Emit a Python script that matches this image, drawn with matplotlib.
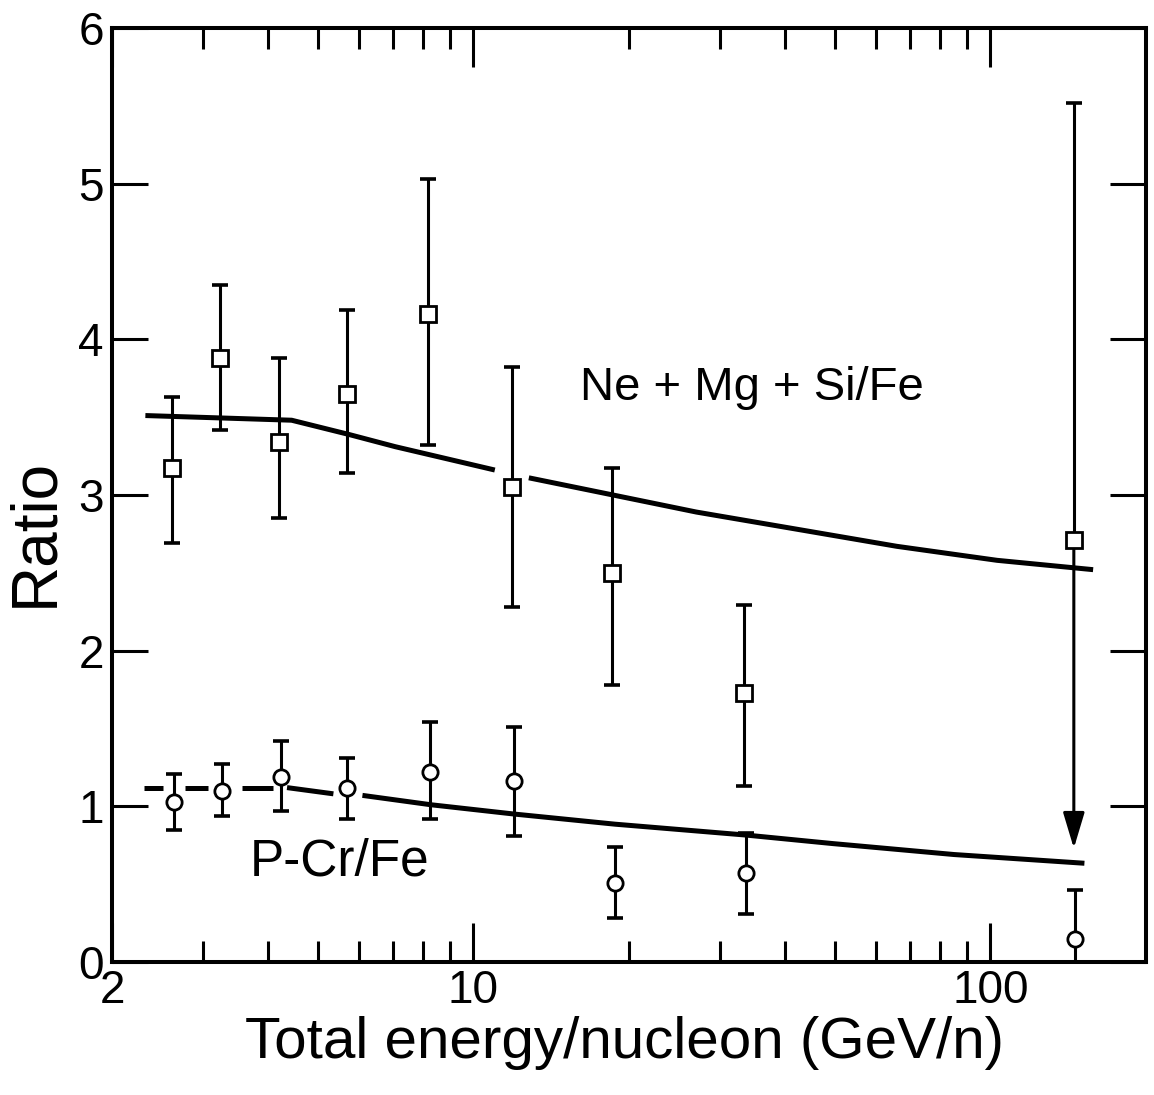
import numpy as np
import matplotlib
matplotlib.use("Agg")
import matplotlib.pyplot as plt
from matplotlib.ticker import FixedLocator, FixedFormatter, NullFormatter, NullLocator

# ---------------- data ----------------
# Ne+Mg+Si/Fe  (open squares)
ne_E   = [2.61, 3.23, 4.20, 5.69, 8.17, 11.9, 18.5, 33.3, 145.0]
ne_val = [3.17, 3.88, 3.34, 3.65, 4.16, 3.05, 2.50, 1.73, 2.71]
ne_hi  = [3.63, 4.35, 3.88, 4.19, 5.03, 3.82, 3.17, 2.29, 5.52]
ne_lo  = [2.69, 3.42, 2.85, 3.14, 3.32, 2.28, 1.78, 1.13, np.nan]
ne_arrow_tip = 0.73          # last point: downward arrow instead of lower bar

# P-Cr/Fe  (open circles)
pcr_E   = [2.63, 3.27, 4.25, 5.70, 8.25, 11.97, 18.8, 33.7, 145.5]
pcr_val = [1.03, 1.10, 1.19, 1.12, 1.22, 1.16, 0.51, 0.57, 0.15]
pcr_hi  = [1.21, 1.27, 1.42, 1.31, 1.54, 1.51, 0.74, 0.83, 0.46]
pcr_lo  = [0.85, 0.94, 0.97, 0.92, 0.92, 0.81, 0.28, 0.31, 0.00]

# model curve for Ne+Mg+Si/Fe (broken around one data point)
upper_seg1_E   = [2.32, 4.45, 5.72, 7.06, 11.0]
upper_seg1_val = [3.51, 3.48, 3.39, 3.31, 3.16]
upper_seg2_E   = [12.8, 18.6, 27.0, 42.2, 65.9, 103.0, 158.0]
upper_seg2_val = [3.11, 3.00, 2.89, 2.78, 2.67, 2.58, 2.52]

# model curve for P-Cr/Fe (interrupted around the markers)
lower_segA_E, lower_segA_val = [2.31, 2.51], [1.12, 1.12]
lower_segB_E, lower_segB_val = [2.77, 3.06], [1.12, 1.12]
lower_segC_E, lower_segC_val = [3.57, 4.09], [1.12, 1.12]
lower_segD_E, lower_segD_val = [4.36, 5.36], [1.12, 1.08]
lower_segE_E   = [6.10, 8.27, 12.0, 18.8, 33.7, 49.7, 85.1, 152.0]
lower_segE_val = [1.07, 1.01, 0.95, 0.885, 0.815, 0.76, 0.69, 0.634]

x_major = [2, 10, 100]
x_major_labels = ["2", "10", "100"]
x_minor = [3, 4, 5, 6, 7, 8, 9, 20, 30, 40, 50, 60, 70, 80, 90]
y_major = [0, 1, 2, 3, 4, 5, 6]
y_major_labels = ["0", "1", "2", "3", "4", "5", "6"]

# ---------------- figure ----------------
FONT = ["Liberation Sans", "DejaVu Sans"]

fig = plt.figure(figsize=(11.54, 10.95), dpi=100)
ax = fig.add_axes([0.0971, 0.1215, 0.896, 0.853])
ax.set_xscale("log")
ax.set_xlim(2, 200)
ax.set_ylim(0, 6)

for s in ax.spines.values():
    s.set_linewidth(2.9)

# curves
curve_kw = dict(color="k", lw=3.6, solid_capstyle="butt", zorder=2)
for xs, ys in [(upper_seg1_E, upper_seg1_val), (upper_seg2_E, upper_seg2_val),
               (lower_segA_E, lower_segA_val), (lower_segB_E, lower_segB_val),
               (lower_segC_E, lower_segC_val), (lower_segD_E, lower_segD_val),
               (lower_segE_E, lower_segE_val)]:
    ax.plot(xs, ys, **curve_kw)

# error bars
def draw_bars(E, val, lo, hi, capw):
    E = np.asarray(E); val = np.asarray(val)
    lo = np.asarray(lo, dtype=float); hi = np.asarray(hi)
    bottom = np.where(np.isnan(lo), val, lo)
    ax.vlines(E, bottom, hi, colors="k", lw=2.2, zorder=3)
    ax.plot(E, hi, ls="none", marker="_", ms=capw, mew=2.6, color="k", zorder=3)
    ok = ~np.isnan(lo)
    ax.plot(E[ok], lo[ok], ls="none", marker="_", ms=capw, mew=2.6, color="k",
            zorder=3, clip_on=False)

draw_bars(ne_E, ne_val, ne_lo, ne_hi, 12)
draw_bars(pcr_E, pcr_val, pcr_lo, pcr_hi, 11)

# markers
ax.plot(ne_E, ne_val, ls="none", marker="s", ms=12, mfc="white", mec="k",
        mew=2.0, zorder=5)
ax.plot(pcr_E, pcr_val, ls="none", marker="o", ms=11, mfc="white", mec="k",
        mew=2.0, zorder=5)

# downward arrow (upper limit style) on last square
ax.annotate("", xy=(ne_E[-1], ne_arrow_tip), xytext=(ne_E[-1], ne_val[-1]),
            arrowprops=dict(arrowstyle="-|>,head_length=1.1,head_width=0.33",
                            color="k", lw=2.2, shrinkA=0, shrinkB=0,
                            mutation_scale=20), zorder=4)

# labels inside the plot
ax.text(0.619, 0.615, "Ne + Mg + Si/Fe", transform=ax.transAxes, ha="center",
        va="center", fontsize=34, family=FONT)
ax.text(0.2205, 0.107, "P-Cr/Fe", transform=ax.transAxes, ha="center",
        va="center", fontsize=37, family=FONT)

# ticks
ax.xaxis.set_major_locator(FixedLocator(x_major))
ax.xaxis.set_major_formatter(FixedFormatter(x_major_labels))
ax.xaxis.set_minor_locator(FixedLocator(x_minor))
ax.xaxis.set_minor_formatter(NullFormatter())
ax.yaxis.set_major_locator(FixedLocator(y_major))
ax.yaxis.set_major_formatter(FixedFormatter(y_major_labels))
ax.yaxis.set_minor_locator(NullLocator())

ax.tick_params(axis="x", which="major", direction="in", length=28, width=2.2,
               top=True, pad=5, labelsize=33)
ax.tick_params(axis="x", which="minor", direction="in", length=15, width=2.2,
               top=True)
ax.tick_params(axis="y", which="major", direction="in", length=26, width=2.2,
               right=True, pad=6, labelsize=33)
for lab in ax.get_xticklabels() + ax.get_yticklabels():
    lab.set_family(FONT)

ax.set_xlabel("Total energy/nucleon (GeV/n)", fontsize=42, family=FONT)
ax.xaxis.set_label_coords(0.496, -0.058)
ax.set_ylabel("Ratio", fontsize=46, family=FONT)
ax.yaxis.set_label_coords(-0.045, 0.46)

fig.savefig("out.png", dpi=100)
